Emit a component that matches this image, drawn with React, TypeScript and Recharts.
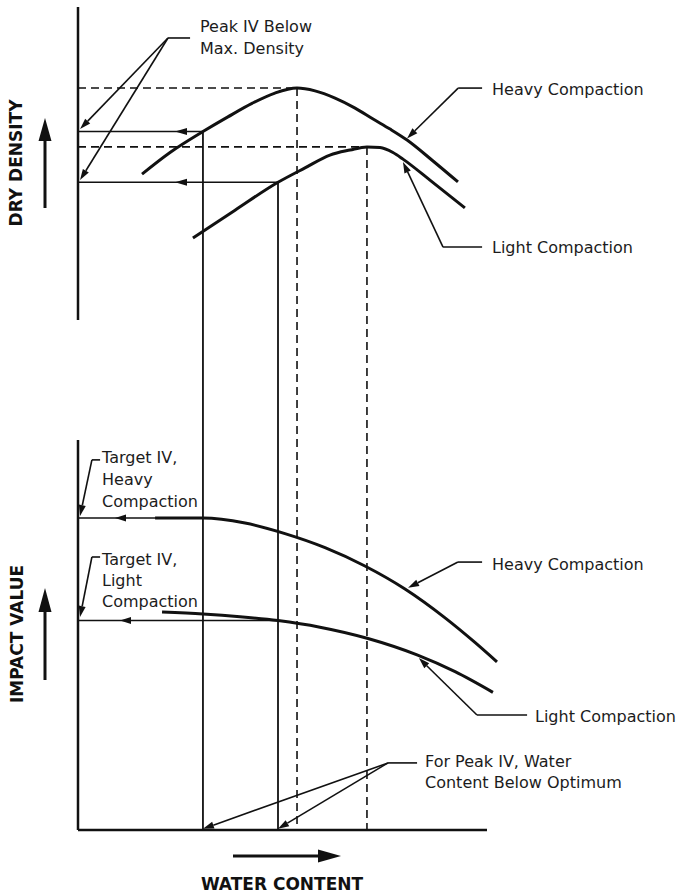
import React from 'react';
import { ComposedChart, Line, XAxis, YAxis, ReferenceLine, Customized } from 'recharts';

// water content (%) vs dry density / impact value, both in relative units (0-100 along each drawn axis)
const heavyDensity = [
  { wc: 3.13, dd: 46.6 },
  { wc: 4.5, dd: 53.5 },
  { wc: 6.11, dd: 60.2 },
  { wc: 7.33, dd: 64.9 },
  { wc: 8.51, dd: 69.2 },
  { wc: 9.63, dd: 72.5 },
  { wc: 10.71, dd: 74.1 },
  { wc: 11.59, dd: 73.2 },
  { wc: 12.57, dd: 70.9 },
  { wc: 13.55, dd: 67.7 },
  { wc: 14.43, dd: 64.2 },
  { wc: 15.26, dd: 61.0 },
  { wc: 16.09, dd: 57.5 },
  { wc: 17.36, dd: 50.8 },
  { wc: 18.58, dd: 44.1 },
];

const lightDensity = [
  { wc: 5.62, dd: 26.2 },
  { wc: 7.68, dd: 35.1 },
  { wc: 9.78, dd: 44.0 },
  { wc: 11.1, dd: 48.6 },
  { wc: 12.32, dd: 52.7 },
  { wc: 13.3, dd: 54.3 },
  { wc: 14.13, dd: 55.3 },
  { wc: 14.77, dd: 55.1 },
  { wc: 15.4, dd: 53.5 },
  { wc: 15.89, dd: 51.4 },
  { wc: 17.21, dd: 44.7 },
  { wc: 18.92, dd: 35.8 },
];

const heavyImpact = [
  { wc: 3.77, iv: 80.0 },
  { wc: 6.11, iv: 80.0 },
  { wc: 8.17, iv: 78.7 },
  { wc: 10.12, iv: 76.0 },
  { wc: 12.08, iv: 72.4 },
  { wc: 14.03, iv: 67.7 },
  { wc: 15.99, iv: 61.8 },
  { wc: 17.95, iv: 54.4 },
  { wc: 19.41, iv: 48.1 },
  { wc: 20.49, iv: 43.1 },
];

const lightImpact = [
  { wc: 4.11, iv: 55.9 },
  { wc: 6.11, iv: 55.4 },
  { wc: 7.92, iv: 54.7 },
  { wc: 9.78, iv: 53.7 },
  { wc: 11.83, iv: 52.0 },
  { wc: 14.18, iv: 49.1 },
  { wc: 16.58, iv: 44.9 },
  { wc: 18.44, iv: 40.6 },
  { wc: 20.29, iv: 35.3 },
];

// [heavy, light]
const optimumWc = [10.71, 14.13];
const maxDensity = [74.1, 55.3];
const targetWc = [6.11, 9.78];
const targetDensity = [60.2, 44.0];
const targetImpact = [80.0, 53.7];

// layout
const W = 679;
const H = 896;
const LEFT = 78;
const WC_AXIS_END = 20;
const WC_AXIS_END_PX = 487;
const wcMax = (WC_AXIS_END * (W - LEFT)) / (WC_AXIS_END_PX - LEFT);
const DD_BAND = [7, 320];
const IV_BAND = [440, 830];

const band = ([top, bottom]: number[]) => {
  const per = 100 / (bottom - top);
  return { per, domain: [-(H - bottom) * per, 100 + top * per] };
};
const ddAxis = band(DD_BAND);
const ivAxis = band(IV_BAND);
const ddAtBase = -(IV_BAND[1] - DD_BAND[1]) * ddAxis.per;

const INK = '#111';
const FONT = 'DejaVu Sans, Verdana, sans-serif';

// line with a filled arrowhead; back = px from the end of the line to the tip
const arrow = (size = 11, half = 3.5, back = 0) => (p: any) => {
  const { x1, y1, x2, y2 } = p;
  const len = Math.hypot(x2 - x1, y2 - y1) || 1;
  const ux = (x2 - x1) / len;
  const uy = (y2 - y1) / len;
  const tx = x2 - ux * back;
  const ty = y2 - uy * back;
  const bx = tx - ux * size;
  const by = ty - uy * size;
  return (
    <g>
      <line x1={x1} y1={y1} x2={back ? x2 : bx} y2={back ? y2 : by} stroke={INK} strokeWidth={p.strokeWidth || 1.6} />
      <polygon
        points={`${tx},${ty} ${bx - uy * half},${by + ux * half} ${bx + uy * half},${by - ux * half}`}
        fill={INK}
      />
    </g>
  );
};

type Pt = { x: number; y: number };
const seg = (id: string, a: Pt, b: Pt, key: string, extra: any = {}) => (
  <ReferenceLine
    key={key}
    yAxisId={id}
    segment={[a, b]}
    stroke={INK}
    strokeWidth={1.6}
    ifOverflow="visible"
    {...extra}
  />
);

const Notes = () => {
  const t = { fontFamily: FONT, fontSize: 16, fill: '#1c1c1c' };
  const b = { fontFamily: FONT, fontSize: 17, fontWeight: 700, fill: '#111' };
  return (
    <g>
      <text {...t} x={200} y={32}>Peak IV Below</text>
      <text {...t} x={200} y={54}>Max. Density</text>
      <text {...t} x={492} y={95}>Heavy Compaction</text>
      <text {...t} x={492} y={253}>Light Compaction</text>
      <text {...t} x={102} y={463}>Target IV,</text>
      <text {...t} x={102} y={485}>Heavy</text>
      <text {...t} x={102} y={507}>Compaction</text>
      <text {...t} x={102} y={565}>Target IV,</text>
      <text {...t} x={102} y={586}>Light</text>
      <text {...t} x={102} y={607}>Compaction</text>
      <text {...t} x={492} y={570}>Heavy Compaction</text>
      <text {...t} x={535} y={722}>Light Compaction</text>
      <text {...t} x={425} y={767}>For Peak IV, Water</text>
      <text {...t} x={425} y={788}>Content Below Optimum</text>

      <text {...b} x={282} y={890} textAnchor="middle">WATER CONTENT</text>
      <text {...b} x={16} y={163} textAnchor="middle" dominantBaseline="central" transform="rotate(-90 16 163)">
        DRY DENSITY
      </text>
      <text {...b} x={17} y={634} textAnchor="middle" dominantBaseline="central" transform="rotate(-90 17 634)">
        IMPACT VALUE
      </text>

      <line x1={45} y1={208} x2={45} y2={138} stroke={INK} strokeWidth={3} />
      <polygon points="45,118 38.5,141 51.5,141" fill={INK} />
      <line x1={45} y1={680} x2={45} y2={610} stroke={INK} strokeWidth={3} />
      <polygon points="45,588 38.5,612 51.5,612" fill={INK} />
      <line x1={233} y1={856} x2={320} y2={856} stroke={INK} strokeWidth={3} />
      <polygon points="341,856 318,849.5 318,862.5" fill={INK} />
    </g>
  );
};

export default function App() {
  const head = arrow(11, 3.5);
  return (
    <div style={{ position: 'absolute', left: 0, top: 0, width: W, height: H, background: '#fff' }}>
      <ComposedChart width={W} height={H} margin={{ top: 0, right: 0, bottom: 0, left: LEFT }}>
        <XAxis dataKey="wc" type="number" domain={[0, wcMax]} allowDataOverflow hide />
        <YAxis yAxisId="dd" type="number" domain={ddAxis.domain} allowDataOverflow hide />
        <YAxis yAxisId="iv" type="number" domain={ivAxis.domain} allowDataOverflow hide />

        {/* axes */}
        {seg('dd', { x: 0, y: 0 }, { x: 0, y: 100 }, 'ax-dd', { strokeWidth: 2.5 })}
        {seg('iv', { x: 0, y: 0 }, { x: 0, y: 100 }, 'ax-iv', { strokeWidth: 2.5 })}
        {seg('iv', { x: 0, y: 0 }, { x: WC_AXIS_END, y: 0 }, 'ax-wc', { strokeWidth: 2.5 })}

        {/* max density and optimum water content */}
        {optimumWc.map((wc, i) =>
          seg('dd', { x: 0, y: maxDensity[i] }, { x: wc, y: maxDensity[i] }, `mh${i}`, { strokeDasharray: '8 5' })
        )}
        {optimumWc.map((wc, i) =>
          seg('dd', { x: wc, y: maxDensity[i] }, { x: wc, y: ddAtBase }, `mv${i}`, { strokeDasharray: '8 5' })
        )}

        {/* water content at peak impact value */}
        {targetWc.map((wc, i) =>
          seg('dd', { x: wc, y: targetDensity[i] }, { x: wc, y: ddAtBase }, `tv${i}`, { strokeWidth: 1.8 })
        )}
        {targetWc.map((wc, i) =>
          seg('dd', { x: wc, y: targetDensity[i] }, { x: 0, y: targetDensity[i] }, `td${i}`, {
            shape: arrow(12, 3.5, 97),
          })
        )}
        {targetWc.map((wc, i) =>
          seg('iv', { x: wc, y: targetImpact[i] }, { x: 0, y: targetImpact[i] }, `ti${i}`, {
            shape: arrow(11, 3.5, i === 0 ? 37 : 42),
          })
        )}

        {/* leaders: top panel */}
        {seg('dd', { x: 4.4, y: 90.1 }, { x: 5.48, y: 90.1 }, 'l1')}
        {seg('dd', { x: 4.4, y: 90.1 }, { x: 0.1, y: 61.0 }, 'l1a', { shape: head })}
        {seg('dd', { x: 4.4, y: 90.1 }, { x: 0.1, y: 44.7 }, 'l1b', { shape: head })}
        {seg('dd', { x: 18.59, y: 74.1 }, { x: 19.76, y: 74.1 }, 'l2')}
        {seg('dd', { x: 18.59, y: 74.1 }, { x: 16.09, y: 58.0 }, 'l2a', { shape: head })}
        {seg('dd', { x: 17.85, y: 23.3 }, { x: 19.76, y: 23.3 }, 'l3')}
        {seg('dd', { x: 17.85, y: 23.3 }, { x: 15.89, y: 50.5 }, 'l3a', { shape: head })}

        {/* leaders: bottom panel */}
        {seg('iv', { x: 0.68, y: 94.9 }, { x: 1.08, y: 94.9 }, 'l4')}
        {seg('iv', { x: 0.68, y: 94.9 }, { x: 0.1, y: 80.5 }, 'l4a', { shape: head })}
        {seg('iv', { x: 0.68, y: 70.0 }, { x: 1.08, y: 70.0 }, 'l5')}
        {seg('iv', { x: 0.68, y: 70.0 }, { x: 0.1, y: 54.6 }, 'l5a', { shape: head })}
        {seg('iv', { x: 18.58, y: 68.7 }, { x: 19.76, y: 68.7 }, 'l6')}
        {seg('iv', { x: 18.58, y: 68.7 }, { x: 16.14, y: 62.1 }, 'l6a', { shape: head })}
        {seg('iv', { x: 19.51, y: 29.5 }, { x: 21.96, y: 29.5 }, 'l7')}
        {seg('iv', { x: 19.51, y: 29.5 }, { x: 16.67, y: 44.1 }, 'l7a', { shape: head })}
        {seg('iv', { x: 15.16, y: 17.2 }, { x: 16.58, y: 17.2 }, 'l8')}
        {targetWc.map((wc, i) =>
          seg('iv', { x: 15.16, y: 17.2 }, { x: wc, y: 0.3 }, `l8${i}`, { shape: head })
        )}

        <Line yAxisId="dd" data={heavyDensity} dataKey="dd" type="monotone" stroke={INK} strokeWidth={3} dot={false} isAnimationActive={false} />
        <Line yAxisId="dd" data={lightDensity} dataKey="dd" type="monotone" stroke={INK} strokeWidth={3} dot={false} isAnimationActive={false} />
        <Line yAxisId="iv" data={heavyImpact} dataKey="iv" type="monotone" stroke={INK} strokeWidth={3} dot={false} isAnimationActive={false} />
        <Line yAxisId="iv" data={lightImpact} dataKey="iv" type="monotone" stroke={INK} strokeWidth={3} dot={false} isAnimationActive={false} />

        <Customized component={<Notes />} />
      </ComposedChart>
    </div>
  );
}
